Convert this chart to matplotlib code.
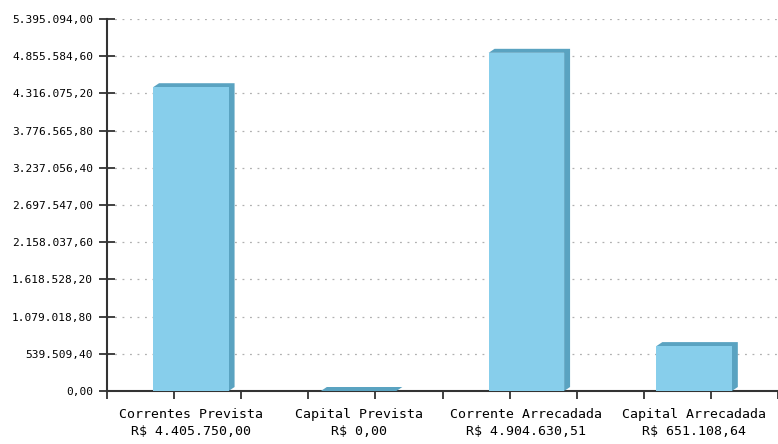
import numpy as np
import matplotlib.pyplot as plt
from matplotlib.patches import Polygon

# Dados
categorias = ['Correntes Prevista', 'Capital Prevista', 'Corrente Arrecadada', 'Capital Arrecadada']
valores = [4405750.00, 0.00, 4904630.51, 651108.64]
y_max = 5395094.00
n_ticks_y = 10


def brl(v):
    s = f'{v:,.2f}'
    return s.replace(',', 'X').replace('.', ',').replace('X', '.')


frente = '#87ceeb'
lado = '#5aa3c1'

fig = plt.figure(figsize=(7.78, 4.44), dpi=100)
ax = fig.add_axes([107/778, 53/444, 671/778, 372/444])

x = np.arange(len(categorias))
largura = 0.45
ax.set_xlim(-0.5, -0.5 + 671/169)
ax.set_ylim(0, y_max)

# profundidade 3D em pixels -> dados
dx = 6 * (ax.get_xlim()[1] - ax.get_xlim()[0]) / 671
dy = 4 * y_max / 372

for xi, v in zip(x, valores):
    x0, x1 = xi - largura/2, xi + largura/2
    # topo + lateral
    pts = [(x0, v), (x0 + dx, v + dy), (x1 + dx, v + dy), (x1 + dx, dy), (x1, 0), (x1, v)]
    ax.add_patch(Polygon(pts, closed=True, facecolor=lado, edgecolor='none', zorder=3, clip_on=False))
ax.bar(x, valores, width=largura, color=frente, zorder=4)

yt = np.linspace(0, y_max, n_ticks_y + 1)
ax.set_yticks(yt)
ax.set_yticklabels([brl(v) for v in yt], family='DejaVu Sans Mono', fontsize=8)
ax.yaxis.grid(True, linestyle=(0, (1.5, 4.5)), color='#b0b0b0', lw=0.9, zorder=0)
ax.tick_params(axis='y', direction='inout', length=12, width=1.3, color='#333333', pad=4)

ax.set_xticks(x)
ax.set_xticklabels([f'{c}\nR\\$ {brl(v)}' for c, v in zip(categorias, valores)],
                   family='DejaVu Sans Mono', fontsize=9.5, linespacing=1.45)
ax.tick_params(axis='x', which='major', length=0, pad=12)
ax.set_xticks(np.arange(-0.5, 3.6, 0.4), minor=True)
ax.tick_params(axis='x', which='minor', direction='out', length=6, width=1.3, color='#333333')

for s in ['top', 'right']:
    ax.spines[s].set_visible(False)
for s in ['left', 'bottom']:
    ax.spines[s].set_color('#333333')
    ax.spines[s].set_linewidth(1.5)

fig.savefig('out.png', dpi=100)
